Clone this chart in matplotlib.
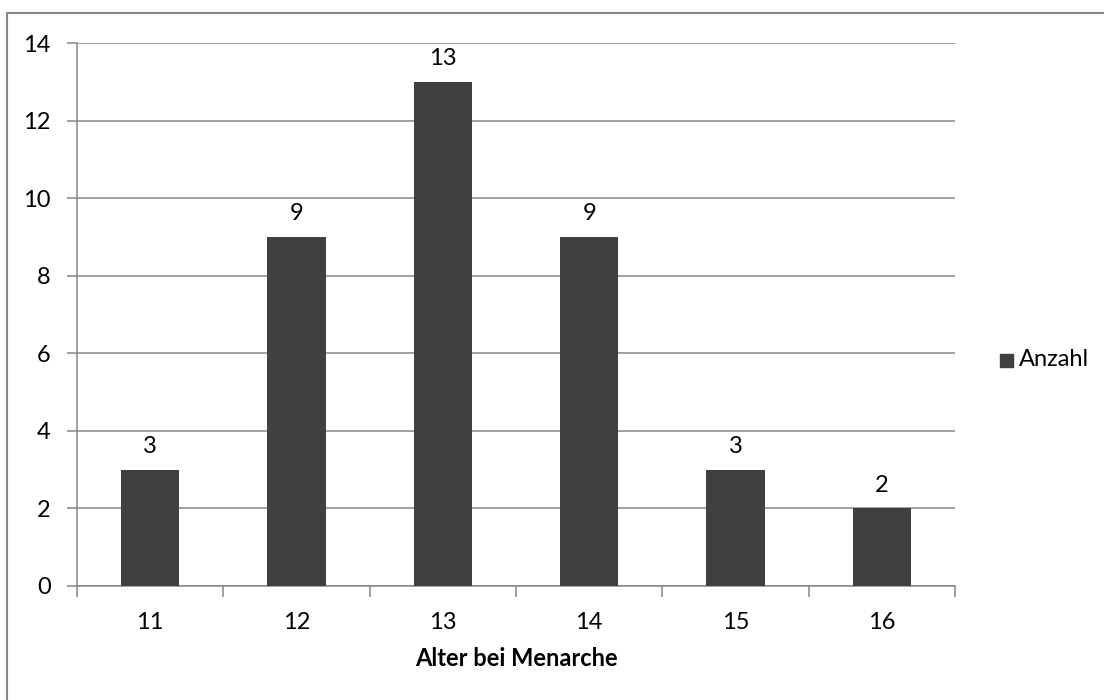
import matplotlib
matplotlib.use('Agg')
from matplotlib import pyplot as plt
from matplotlib.patches import Rectangle
from matplotlib.lines import Line2D
import numpy as np

# Häufigkeit des Alters bei Menarche
alter = ['11', '12', '13', '14', '15', '16']
anzahl = [3, 9, 13, 9, 3, 2]

plt.rcParams['font.family'] = ['Lato', 'DejaVu Sans']
grau = '#868686'
balken = '#404040'
fs = 17

fig = plt.figure(figsize=(11.04, 7), dpi=100)
ax = fig.add_axes([77/1104, 1 - 586/700, (955 - 77)/1104, (586 - 43)/700])

# Rahmen um das Diagramm (nur links und oben sichtbar)
fig.add_artist(Line2D([7/1104, 7/1104], [0, 1 - 13/700], color=grau, lw=1.5, transform=fig.transFigure))
fig.add_artist(Line2D([7/1104, 1], [1 - 13/700, 1 - 13/700], color=grau, lw=1.5, transform=fig.transFigure))

x = np.arange(len(alter))
ax.bar(x, anzahl, width=0.4, color=balken, zorder=3)
for xi, v in zip(x, anzahl):
    ax.annotate(str(v), (xi, v), xytext=(0, 9), textcoords='offset points',
                ha='center', va='bottom', fontsize=fs)

ax.set_xlim(-0.5, len(alter) - 0.5)
ax.set_ylim(0, 14)
ax.set_yticks(range(0, 15, 2))
ax.yaxis.grid(True, color=grau, lw=1.1, zorder=0)
ax.set_xticks(x)
ax.set_xticklabels(alter)
ax.set_xticks(np.arange(-0.5, len(alter)), minor=True)
ax.tick_params(axis='x', which='major', length=0, pad=19, labelsize=fs)
ax.tick_params(axis='x', which='minor', length=8, width=1.1, color=grau)
ax.tick_params(axis='y', length=7, width=1.1, color=grau, pad=12, labelsize=fs)

for s in ['top', 'right']:
    ax.spines[s].set_visible(False)
for s in ['left', 'bottom']:
    ax.spines[s].set_color(grau)
    ax.spines[s].set_linewidth(1.1)

ax.set_xlabel('Alter bei Menarche', fontsize=fs, fontweight='bold', labelpad=10)

# Legende
fig.add_artist(Rectangle((1000/1104, 1 - 367/700), 13/1104, 13/700, color=balken, transform=fig.transFigure))
fig.text(1019/1104, 1 - 360/700, 'Anzahl', fontsize=fs, va='center', ha='left')

fig.savefig('out.png', dpi=100)
